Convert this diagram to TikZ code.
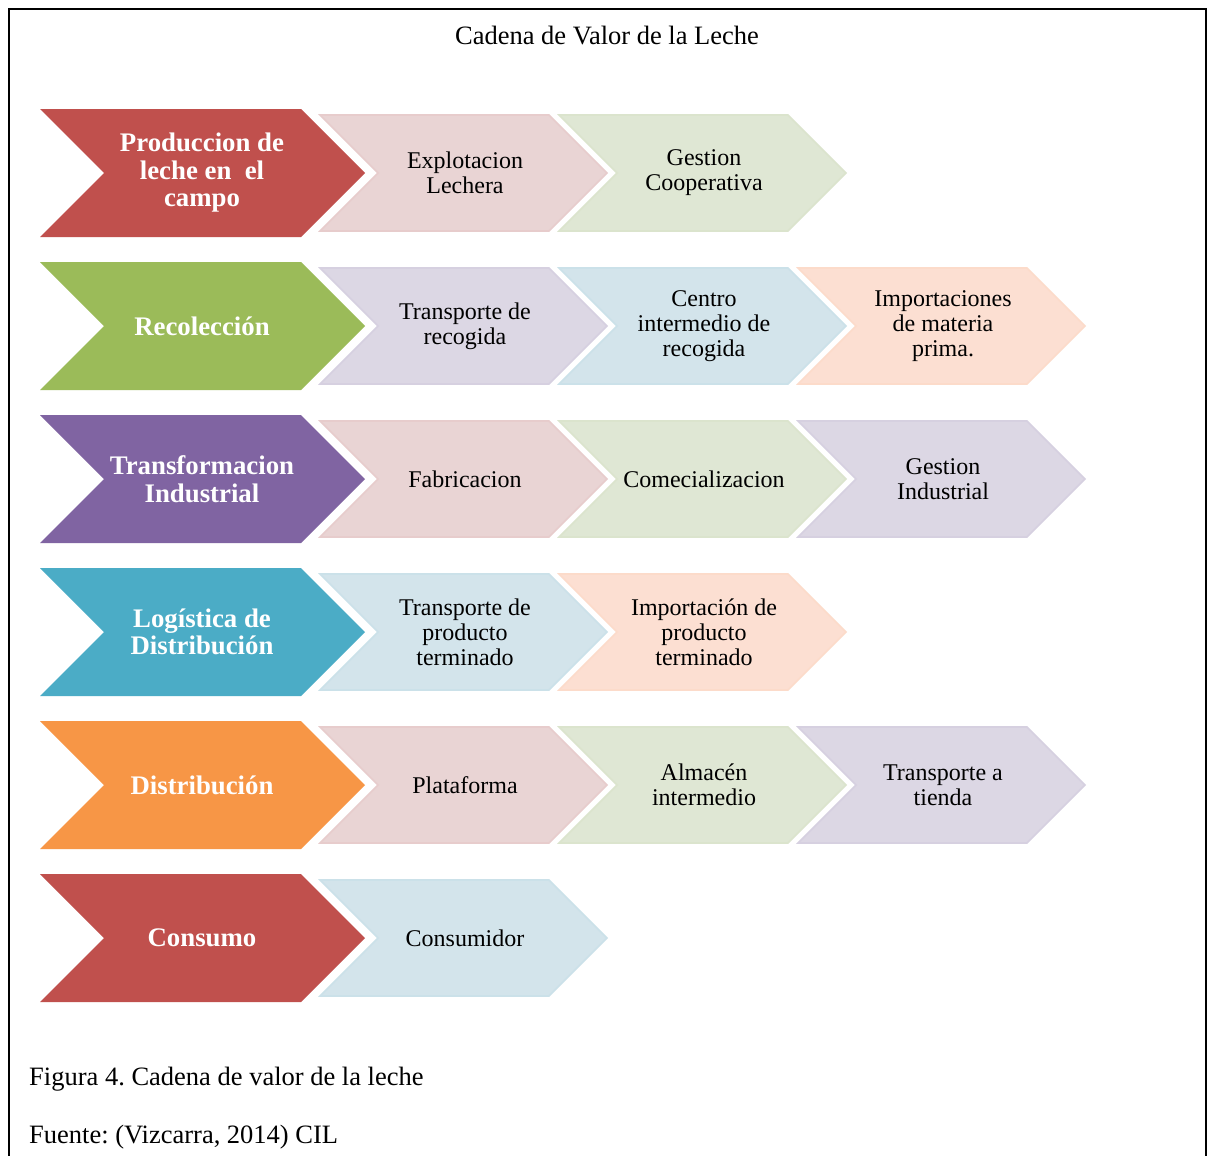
\documentclass[tikz,border=0pt]{standalone}
\usepackage{fontspec}
\setmainfont{Liberation Serif}
\frenchspacing
\definecolor{accRed}{HTML}{C0504D}
\definecolor{accGreen}{HTML}{9BBB59}
\definecolor{accPurple}{HTML}{8064A2}
\definecolor{accTeal}{HTML}{4BACC6}
\definecolor{accOrange}{HTML}{F79646}
\definecolor{tintRed}{HTML}{E9D4D4}
\definecolor{tintGreen}{HTML}{DFE7D4}
\definecolor{tintPurple}{HTML}{DCD7E4}
\definecolor{tintTeal}{HTML}{D3E4EB}
\definecolor{tintOrange}{HTML}{FCDFD2}
\tikzset{
  maintext/.style={text=white, font=\fontsize{26.8}{27.5}\selectfont\bfseries, align=center},
  steptext/.style={text=black, font=\fontsize{24}{25}\selectfont, align=center},
  plaintext/.style={text=black, font=\fontsize{26.5}{28}\selectfont, inner sep=0pt},
}
% big stage chevron: #1 row centre y, #2 colour, #3 node name, #4 label
\newcommand\stagechev[4]{%
  \fill[#2] (40,#1-64) -- (301,#1-64) -- (365,#1) -- (301,#1+64) -- (40,#1+64) -- (104,#1) -- cycle;
  \node[maintext] (#3) at (202,#1) {#4};
}
% small activity chevron: #1 column index, #2 row centre y, #3 colour, #4 node name, #5 label
\newcommand\actchev[5]{%
  \begin{scope}[xshift=#1*239pt]
    \filldraw[fill=tint#3, draw=tint#3!94!acc#3, line width=1.6pt, line join=miter]
      (320,#2-58) -- (549,#2-58) -- (607,#2) -- (549,#2+58) -- (320,#2+58) -- (378,#2) -- cycle;
    \node[steptext] (#4) at (465,#2) {#5};
  \end{scope}
}
\begin{document}
\begin{tikzpicture}[x=1pt,y=-1pt]
\useasboundingbox (0,0) rectangle (1208,1156);
\fill[white] (0,0) rectangle (1208,1156);
% frame
\draw[black, line width=2pt] (9,1170) -- (9,9) -- (1206,9) -- (1206,1170);

\node[plaintext] (title) at (607,36) {Cadena de Valor de la Leche};

% row 1
\stagechev{173}{accRed}{prod}{Produccion de\\leche en\ \ el\\campo}
\actchev{0}{173}{Red}{explot}{Explotacion\\Lechera}
\actchev{1}{173}{Green}{gcoop}{Gestion\\Cooperativa}

% row 2
\stagechev{326}{accGreen}{recol}{Recolección}
\actchev{0}{326}{Purple}{trecog}{Transporte de\\recogida}
\actchev{1}{326}{Teal}{centro}{Centro\\intermedio de\\recogida}
\actchev{2}{326}{Orange}{import}{Importaciones\\de materia\\prima.}

% row 3
\stagechev{479}{accPurple}{transf}{Transformacion\\Industrial}
\actchev{0}{479}{Red}{fabric}{Fabricacion}
\actchev{1}{479}{Green}{comerc}{Comecializacion}
\actchev{2}{479}{Purple}{gind}{Gestion\\Industrial}

% row 4
\stagechev{632}{accTeal}{logist}{Logística de\\Distribución}
\actchev{0}{632}{Teal}{tprod}{Transporte de\\producto\\terminado}
\actchev{1}{632}{Orange}{impprod}{Importación de\\producto\\terminado}

% row 5
\stagechev{785}{accOrange}{distr}{Distribución}
\actchev{0}{785}{Red}{plataf}{Plataforma}
\actchev{1}{785}{Green}{almac}{Almacén\\intermedio}
\actchev{2}{785}{Purple}{ttienda}{Transporte a\\tienda}

% row 6
\stagechev{938}{accRed}{consumo}{Consumo}
\actchev{0}{938}{Teal}{consumidor}{Consumidor}

% caption
\node[plaintext, anchor=base west] (fig) at (29,1085) {Figura 4. Cadena de valor de la leche};
\node[plaintext, anchor=base west] (src) at (29,1143) {Fuente: (Vizcarra, 2014) CIL};
\end{tikzpicture}
\end{document}
